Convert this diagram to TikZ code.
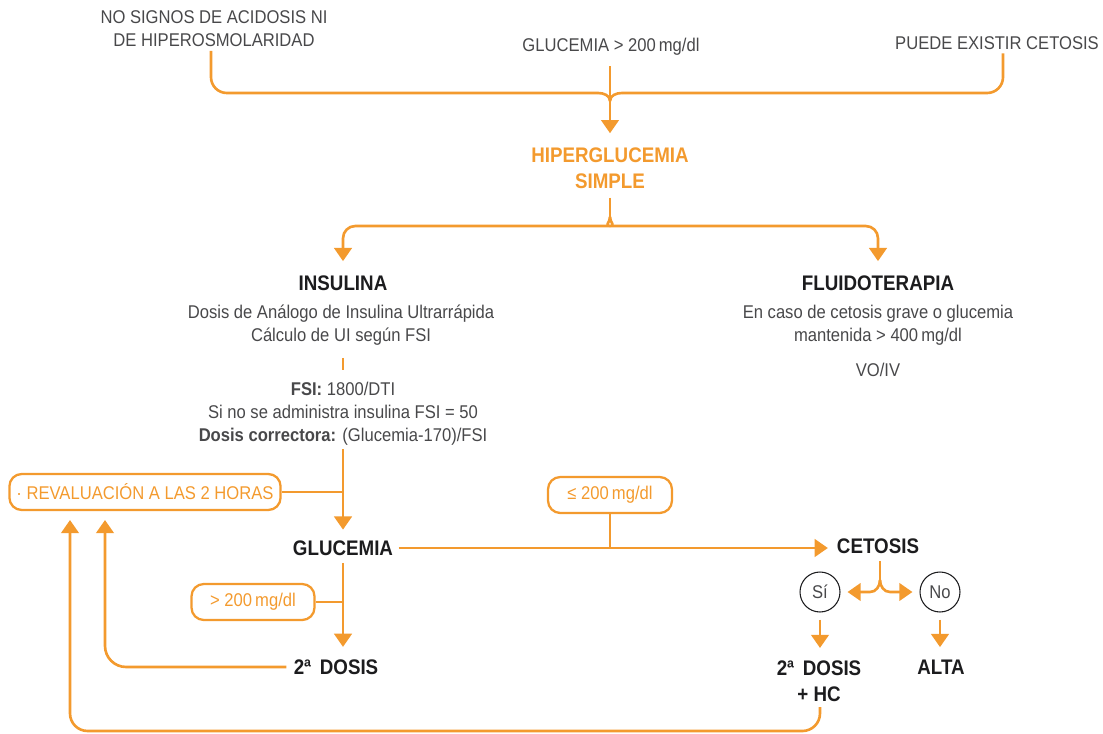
\documentclass[tikz,border=0pt]{standalone}
\usepackage{fontspec}
\setmainfont[FakeStretch=0.9]{Liberation Sans}
\newfontfamily\headfont[FakeStretch=0.89]{Liberation Sans}
\usepackage{tikz}
\usetikzlibrary{arrows.meta, positioning, calc}
\definecolor{SEUP_Orange}{HTML}{F39A2E}
\definecolor{SEUP_Gray}{HTML}{48484A}
\definecolor{SEUP_Dark}{HTML}{1C1C1E}

\begin{document}
\begin{tikzpicture}[
    x=0.02cm, y=0.02cm,
    plain/.style={
        font=\fontsize{10.5}{13}\selectfont,
        text=SEUP_Gray,
        align=center,
        inner sep=2pt
    },
    head/.style={
        font=\headfont\bfseries\fontsize{12}{14.7}\selectfont,
        text=SEUP_Dark,
        align=center,
        inner sep=2pt
    },
    cond/.style={
        draw=SEUP_Orange,
        line width=1.3pt,
        rounded corners=7pt,
        font=\fontsize{10.5}{13}\selectfont,
        text=SEUP_Orange,
        minimum height=0.72cm,
        inner xsep=4pt
    },
    answer/.style={
        circle,
        draw=SEUP_Dark,
        line width=0.6pt,
        minimum size=0.8cm,
        inner sep=0pt,
        font=\fontsize{10.5}{13}\selectfont,
        text=SEUP_Gray
    },
    link/.style={
        draw=SEUP_Orange,
        line width=1.5pt
    },
    arrow/.style={
        link,
        -{Triangle[width=10pt,length=7.5pt]}
    }
]
\useasboundingbox (0,0) rectangle (1103,-734);

\node[plain] (nosignos) at (214,-29) {NO SIGNOS DE ACIDOSIS NI\\DE HIPEROSMOLARIDAD};
\node[plain] (glucin) at (611,-47) {GLUCEMIA > 200\,mg/dl};
\node[plain] (cetin) at (997,-43) {PUEDE EXISTIR CETOSIS};

\node[head, text=SEUP_Orange] (hiper) at (610,-168) {HIPERGLUCEMIA\\SIMPLE};

\node[head] (insulina) at (343,-283) {INSULINA};
\node[plain] (insudesc) at (341,-325) {Dosis de Análogo de Insulina Ultrarrápida\\Cálculo de UI según FSI};
\node[plain] (fsi) at (343,-414) {\textbf{FSI:} 1800/DTI\\Si no se administra insulina FSI = 50\\\textbf{Dosis correctora:} (Glucemia-170)/FSI};

\node[head] (fluido) at (878,-283) {FLUIDOTERAPIA};
\node[plain] (fluidesc) at (878,-325) {En caso de cetosis grave o glucemia\\mantenida > 400\,mg/dl};
\node[plain] (vo) at (878,-370) {VO/IV};

\node[cond, minimum width=5.42cm] (reval) at (145,-492) {· REVALUACIÓN A LAS 2 HORAS};
\node[head] (gluc) at (343,-548) {GLUCEMIA};
\node[cond, minimum width=2.48cm] (le200) at (610,-495) {≤ 200\,mg/dl};
\node[cond, minimum width=2.46cm] (gt200) at (253,-602) {> 200\,mg/dl};
\node[head] (dosis) at (336,-667) {2ª\, DOSIS};

\node[head] (cetosis) at (878,-546) {CETOSIS};
\node[answer] (si) at (820,-592) {Sí};
\node[answer] (no) at (940,-592) {No};
\node[head] (dosishc) at (819,-681) {2ª\, DOSIS\\+ HC};
\node[head] (alta) at (941,-667) {ALTA};

\coordinate (brleft) at (211,-55);
\coordinate (brright) at (1003,-55);
\coordinate (top) at (610,-101);
\coordinate (mid) at (610,-217);
\coordinate (split) at (880,-580);
\coordinate (back1) at (105,-520);
\coordinate (back2) at (70,-520);
\coordinate (low) at (70,-731);

% top brace
\draw[link, rounded corners=9pt] (nosignos.south -| brleft) |- (598,-93);
\draw[link] (598,-93) to[out=0, in=90] (top);
\draw[link, rounded corners=9pt] (cetin.south -| brright) |- (622,-93);
\draw[link] (622,-93) to[out=180, in=90] (top);
\draw[arrow] ([yshift=-4pt]glucin.south -| top) -- ([yshift=6pt]hiper.north -| top);

% second brace
\draw[link] ([yshift=-3pt]hiper.south) -- (mid);
\draw[arrow, rounded corners=7pt] (mid) to[out=-90, in=0] (598,-226) -| ([yshift=6pt]insulina.north);
\draw[arrow, rounded corners=7pt] (mid) to[out=-90, in=180] (622,-226) -| ([yshift=6pt]fluido.north);

\draw[link] ([yshift=-5pt]insudesc.south -| fsi) -- ([yshift=5pt]fsi.north);

% glucemia
\draw[arrow] (fsi.south) -- ([yshift=4pt]gluc.north -| fsi);
\draw[link] (reval.east) -- (reval.east -| gluc);
\draw[arrow] ([xshift=1pt]gluc.east) -- ([xshift=-3pt]cetosis.west |- gluc.east);
\draw[link] (le200.south) -- (le200.south |- gluc.east);
\draw[arrow] ([yshift=-2pt]gluc.south) -- ([yshift=5pt]gluc.south |- dosis.north);
\draw[link] (gt200.east) -- (gt200.east -| gluc);

% back to revaluation
\draw[arrow, rounded corners=12pt] ([xshift=-2pt]dosis.west) -| (back1);
\draw[arrow, rounded corners=10pt] ([yshift=-1pt]dosishc.south -| si) |- (low) -- (back2);

% cetosis
\draw[link] ([yshift=-2pt]cetosis.south -| split) -- (split);
\draw[arrow] (split) to[out=-90, in=0] (870,-592) -- ([xshift=4pt]si.east);
\draw[arrow] (split) to[out=-90, in=180] (890,-592) -- ([xshift=-4pt]no.west);
\draw[arrow] ([yshift=-4pt]si.south) -- ([yshift=5pt]si.south |- dosishc.north);
\draw[arrow] ([yshift=-4pt]no.south) -- ([yshift=5pt]no.south |- alta.north);

\end{tikzpicture}
\end{document}
